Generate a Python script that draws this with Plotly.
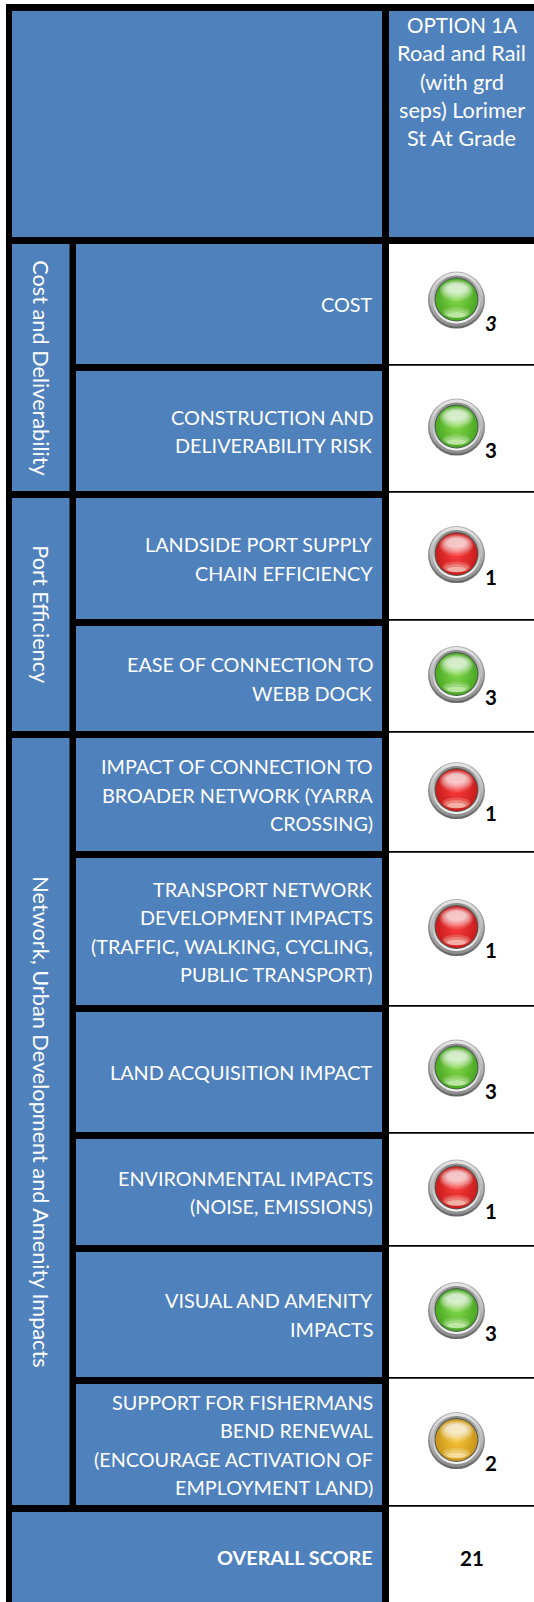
import plotly.graph_objects as go

# ---------- data ----------
header_lines = ["OPTION 1A", "Road and Rail", "(with grd", "seps) Lorimer", "St At Grade"]
groups = ["Cost and Deliverability", "Port Efficiency", "Network, Urban Development and Amenity Impacts"]
group_rows = [2, 2, 6]
criteria = [
    ["COST"],
    ["CONSTRUCTION AND", "DELIVERABILITY RISK"],
    ["LANDSIDE PORT SUPPLY", "CHAIN EFFICIENCY"],
    ["EASE OF CONNECTION TO", "WEBB DOCK"],
    ["IMPACT OF CONNECTION TO", "BROADER NETWORK (YARRA", "CROSSING)"],
    ["TRANSPORT NETWORK", "DEVELOPMENT IMPACTS", "(TRAFFIC, WALKING, CYCLING,", "PUBLIC TRANSPORT)"],
    ["LAND ACQUISITION IMPACT"],
    ["ENVIRONMENTAL IMPACTS", "(NOISE, EMISSIONS)"],
    ["VISUAL AND AMENITY", "IMPACTS"],
    ["SUPPORT FOR FISHERMANS", "BEND RENEWAL", "(ENCOURAGE ACTIVATION OF", "EMPLOYMENT LAND)"],
]
scores = [3, 3, 1, 3, 1, 1, 3, 1, 3, 2]
overall_label = "OVERALL SCORE"
overall_score = 21

# ---------- layout constants (pixel grid of the table) ----------
W, H = 534, 1602
row_top = [244, 371, 498, 626, 738, 858, 1012, 1139, 1252, 1384]
row_bot = [364, 491, 619, 731, 851, 1005, 1132, 1245, 1377, 1505]
BLUE = "#4F81BD"
FONT = "Lato"
FS = 19.8
FS_BIG = 21.7
LH = 28.3
LIGHT_X = 456.5
LEFT, G0, G1, L0, L1, R0 = 6, 12, 69.5, 76, 382, 389
TEXT_R = 374.5
LIGHT = {  # score -> (deep, mid, glow)
    3: ("#4aa824", "#82d848", "#e4fad0"),
    2: ("#c9941a", "#f6c636", "#fff6c8"),
    1: ("#c81c1c", "#fb3c3c", "#ffe6d8"),
}

shapes, annos = [], []


def rect(x0, y0, x1, y1, color, layer="below"):
    shapes.append(dict(type="rect", xref="x", yref="y", x0=x0, y0=y0, x1=x1, y1=y1,
                       fillcolor=color, line=dict(width=0), layer=layer))


def text(x, y, s, anchor="right", size=FS, bold=False, italic=False, color="white", angle=0):
    if bold:
        s = f"<b>{s}</b>"
    if italic:
        s = f"<i>{s}</i>"
    annos.append(dict(x=x, y=y, xref="x", yref="y", text=s, showarrow=False, xanchor=anchor,
                      yanchor="middle", textangle=angle,
                      font=dict(family=FONT, size=size, color=color)))


# frame
rect(LEFT, 4, R0, H, "black")
rect(R0, 4, W, 11, "black")
rect(R0, 237, W, 244, "black")
rect(G0, 11, L1, 237, BLUE)
rect(R0, 11, W, 237, BLUE)
for i, line in enumerate(header_lines):
    text(461.5, 25 + i * LH, line, anchor="center", size=20.6 if line.isupper() else FS_BIG)

# group column
start = 0
for g, n in zip(groups, group_rows):
    top, bot = row_top[start], row_bot[start + n - 1]
    rect(G0, top, G1, bot, BLUE)
    text(41.2, (top + bot) / 2, g, anchor="center", angle=90, size=FS_BIG)
    start += n

# criteria rows
for top, bot, lines in zip(row_top, row_bot, criteria):
    rect(L0, top, L1, bot, BLUE)
    rect(R0, bot, W, bot + 1.7, "black")
    mid = (top + bot) / 2
    for i, line in enumerate(lines):
        text(TEXT_R, mid + (i - (len(lines) - 1) / 2) * LH, line)

# overall row
rect(G0, 1512, L1, H, BLUE)
text(TEXT_R, 1557, overall_label, bold=True)
text(471.5, 1557.5, str(overall_score), anchor="center", bold=True, color="black", size=20.5)

# lights: stacked markers on the table's scale
ys = [(t + b) / 2 - 4.5 for t, b in zip(row_top, row_bot)]
xs = [LIGHT_X] * len(scores)
deep = [LIGHT[s][0] for s in scores]
mid_c = [LIGHT[s][1] for s in scores]


def layer(size, color, grad=None, gtype="none", dy=0):
    m = dict(size=size, color=color, line=dict(width=0))
    if grad is not None:
        m["gradient"] = dict(type=gtype, color=grad)
    fig.add_trace(go.Scatter(x=xs, y=[y + dy for y in ys], mode="markers", marker=m,
                             hoverinfo="skip", showlegend=False))


fig = go.Figure()
layer(57, "#b4b4b4", "#666666", "vertical", dy=0.6)
layer(54, "#e6e6e6", "#8c8c8c", "vertical")
layer(48, "#8a8a8a", "#f8f8f8", "vertical")
layer(44, "#4d5a52")
layer(42, deep, mid_c, "radial")

# glossy highlights: soft stacks of translucent ellipses
for y, s in zip(ys, scores):
    g = LIGHT[s][2]
    for w, h, dy, op in ((17, 11, -9, 0.14), (15.5, 9.5, -9.5, 0.2), (14, 8, -10, 0.24),
                         (12, 6.5, -10.5, 0.28), (10, 5, -11, 0.3)):
        shapes.append(dict(type="circle", xref="x", yref="y", layer="above",
                           x0=LIGHT_X - w, x1=LIGHT_X + w, y0=y + dy - h, y1=y + dy + h,
                           fillcolor="white", opacity=op, line=dict(width=0)))
    for w, h, dy, op in ((14, 5.5, 13, 0.22), (12, 4, 14, 0.3), (9.5, 2.8, 15.5, 0.5)):
        shapes.append(dict(type="circle", xref="x", yref="y", layer="above",
                           x0=LIGHT_X - w, x1=LIGHT_X + w, y0=y + dy - h, y1=y + dy + h,
                           fillcolor=g, opacity=op, line=dict(width=0)))

# score labels
for i, (y, s) in enumerate(zip(ys, scores)):
    text(490.5, y + 23, str(s), anchor="center", bold=True, italic=(i == 0), color="black", size=20.5)

fig.update_layout(
    width=W, height=H, margin=dict(l=0, r=0, t=0, b=0),
    paper_bgcolor="white", plot_bgcolor="white", showlegend=False,
    shapes=shapes, annotations=annos,
    xaxis=dict(range=[0, W], visible=False, fixedrange=True),
    yaxis=dict(range=[H, 0], visible=False, fixedrange=True),
)
fig.write_html("out.html", config=dict(displayModeBar=False),
               post_script="document.body.style.margin='0';document.body.style.overflow='hidden';")
